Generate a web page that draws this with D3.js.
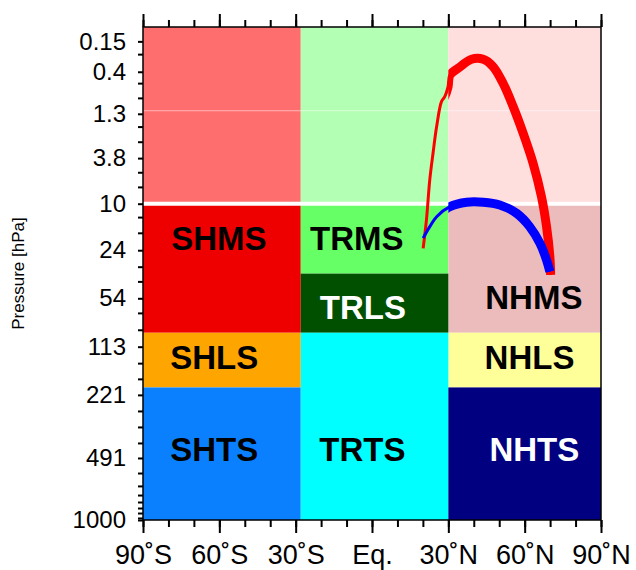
<!DOCTYPE html>
<html>
<head>
<meta charset="utf-8">
<script src="https://cdn.jsdelivr.net/npm/d3@7"></script>
<style>
  body { margin: 0; background: #fff; }
  text { font-family: "Liberation Sans", Arial, Helvetica, sans-serif; }
</style>
</head>
<body>
<div id="chart"></div>
<script>
// region boxes: latitude and pressure bounds
const boxNames = ['SHUP', 'TRUP', 'NHUP', 'SHMS', 'TRMS', 'NHMS', 'TRLS', 'SHLS', 'NHLS', 'SHTS', 'TRTS', 'NHTS'];
const boxLat = [[-90, -28], [-28, 30], [30, 90], [-90, -28], [-28, 30], [30, 90], [-28, 30], [-90, -28], [30, 90], [-90, -28], [-28, 30], [30, 90]];
const boxP = [[0.09, 10], [0.09, 10], [0.09, 10], [10, 92], [10, 36], [10, 92], [36, 92], [92, 200], [92, 200], [200, 1000], [92, 1000], [200, 1000]];

// region labels
const labelNames = ['SHMS', 'TRMS', 'NHMS', 'SHLS', 'TRLS', 'NHLS', 'SHTS', 'TRTS', 'NHTS'];
const labelLat = [-60.2, -6, 63.6, -62, -3.6, 61.9, -62, -3.8, 63.8];
const labelP = [19.2, 19.2, 52.9, 131, 62, 131, 440, 440, 440];

// curves
const redLat = [20.1, 21.4, 22.7, 24.0, 25.4, 27.3, 28.6, 29.9, 30.6, 33.9, 39.1, 43.7, 47.6, 51.5, 55.5, 59.4, 63.3, 66.6, 68.6, 69.9, 70.2];
const redP = [23.2, 13.7, 6.13, 3.38, 1.80, 0.94, 0.82, 0.62, 0.44, 0.359, 0.271, 0.271, 0.342, 0.562, 1.08, 2.12, 4.26, 8.68, 15.6, 26.9, 36.8];
const blueLat = [20.1, 22.7, 25.4, 30.6, 37.2, 43.7, 50.2, 56.8, 62.0, 66.0, 68.6, 69.9];
const blueP = [19.3, 15.6, 12.9, 10.6, 9.71, 9.71, 10.25, 12.07, 15.6, 21.2, 28.5, 34.8];

// axes
const xTicks = [-90, -60, -30, 0, 30, 60, 90];
const xTickLabels = ['90˚S', '60˚S', '30˚S', 'Eq.', '30˚N', '60˚N', '90˚N'];
const xMinor = d3.range(-90, 91, 10);
const yTicks = [0.15, 0.4, 1.3, 3.8, 10, 24, 54, 113, 221, 491, 1000];
const yMinor = [0.23, 0.56, 0.85, 1.8, 2.6, 5.2, 7.1, 13, 17.5, 32, 41, 68, 88, 143, 178, 273, 335, 409, 587, 682, 757, 819, 876, 926, 978];

const colors = {
  SHUP: '#ff6e6e', TRUP: '#b3ffb3', NHUP: '#ffdede',
  SHMS: '#ee0000', TRMS: '#66ff66', NHMS: '#ecbcbc',
  TRLS: '#005000', SHLS: '#ffa500', NHLS: '#ffff99',
  SHTS: '#0a80ff', TRTS: '#00ffff', NHTS: '#000080'
};
const whiteLabels = ['TRLS', 'NHTS'];

const W = 636, H = 570;
const margin = { top: 27, right: 35, bottom: 50, left: 143 };
const width = W - margin.left - margin.right;
const height = H - margin.top - margin.bottom;

const svg = d3.select('#chart').append('svg')
  .attr('width', W)
  .attr('height', H);

const g = svg.append('g')
  .attr('transform', `translate(${margin.left},${margin.top})`);

const x = d3.scaleLinear().domain([-90, 90]).range([0, width]);
const y = d3.scalePow().exponent(0.13).domain([1000, 0.09]).range([height, 0]);

// boxes
g.selectAll('rect.box')
  .data(boxNames)
  .join('rect')
  .attr('class', 'box')
  .attr('x', (d, i) => x(boxLat[i][0]))
  .attr('width', (d, i) => x(boxLat[i][1]) - x(boxLat[i][0]))
  .attr('y', (d, i) => y(boxP[i][0]))
  .attr('height', (d, i) => y(boxP[i][1]) - y(boxP[i][0]))
  .attr('fill', d => colors[d]);

// faint line in upper part and white line at 10 hPa
g.append('line')
  .attr('x1', 0).attr('x2', width)
  .attr('y1', y(1.2)).attr('y2', y(1.2))
  .attr('stroke', '#fff').attr('stroke-opacity', 0.5).attr('stroke-width', 1);

g.append('line')
  .attr('x1', 0).attr('x2', width)
  .attr('y1', y(10)).attr('y2', y(10))
  .attr('stroke', '#fff').attr('stroke-width', 4);

// labels
g.selectAll('text.region')
  .data(labelNames)
  .join('text')
  .attr('class', 'region')
  .attr('x', (d, i) => x(labelLat[i]))
  .attr('y', (d, i) => y(labelP[i]))
  .attr('text-anchor', 'middle')
  .attr('dy', '0.36em')
  .attr('font-size', 33)
  .attr('font-weight', 'bold')
  .attr('fill', d => whiteLabels.includes(d) ? '#fff' : '#000')
  .text(d => d);

// curves: thin in the tropics, thick north of 30N
g.append('clipPath').attr('id', 'nh')
  .append('rect')
  .attr('x', x(30)).attr('y', 0)
  .attr('width', width - x(30)).attr('height', height);

const line = d3.line()
  .x(d => x(d[0]))
  .y(d => y(d[1]))
  .curve(d3.curveCatmullRom);

const curves = [
  { pts: d3.zip(redLat, redP), color: '#ff0000', thick: 9 },
  { pts: d3.zip(blueLat, blueP), color: '#0000ff', thick: 9 }
];

curves.forEach(c => {
  g.append('path')
    .attr('d', line(c.pts))
    .attr('fill', 'none')
    .attr('stroke', c.color)
    .attr('stroke-width', 3);
  g.append('path')
    .attr('d', line(c.pts))
    .attr('fill', 'none')
    .attr('stroke', c.color)
    .attr('stroke-width', c.thick)
    .attr('clip-path', 'url(#nh)');
});

// frame
g.append('rect')
  .attr('width', width).attr('height', height)
  .attr('fill', 'none')
  .attr('stroke', '#000')
  .attr('stroke-width', 1.5);

function styleAxis(sel) {
  sel.select('.domain').remove();
  sel.selectAll('.tick line').attr('stroke', '#000').attr('stroke-width', 2);
  sel.selectAll('.tick text').attr('fill', '#000');
}

// bottom axis
g.append('g')
  .attr('transform', `translate(0,${height})`)
  .call(d3.axisBottom(x).tickValues(xMinor).tickSize(7).tickFormat(''))
  .call(styleAxis);

g.append('g')
  .attr('transform', `translate(0,${height})`)
  .call(d3.axisBottom(x).tickValues(xTicks).tickSize(13).tickPadding(12)
    .tickFormat((d, i) => xTickLabels[i]))
  .call(styleAxis)
  .selectAll('text')
  .attr('font-size', 27);

// top axis
g.append('g')
  .call(d3.axisTop(x).tickValues(xMinor).tickSize(7).tickFormat(''))
  .call(styleAxis);

g.append('g')
  .call(d3.axisTop(x).tickValues(xTicks).tickSize(13).tickFormat(''))
  .call(styleAxis);

// left axis
g.append('g')
  .call(d3.axisLeft(y).tickValues(yMinor).tickSize(5).tickFormat(''))
  .call(styleAxis);

g.append('g')
  .call(d3.axisLeft(y).tickValues(yTicks).tickSize(5).tickPadding(12)
    .tickFormat(d => String(d)))
  .call(styleAxis)
  .selectAll('text')
  .attr('font-size', 24);

svg.append('text')
  .attr('transform', `translate(18,${margin.top + height / 2}) rotate(-90)`)
  .attr('text-anchor', 'middle')
  .attr('dy', '0.35em')
  .attr('font-size', 17)
  .text('Pressure [hPa]');
</script>
</body>
</html>
